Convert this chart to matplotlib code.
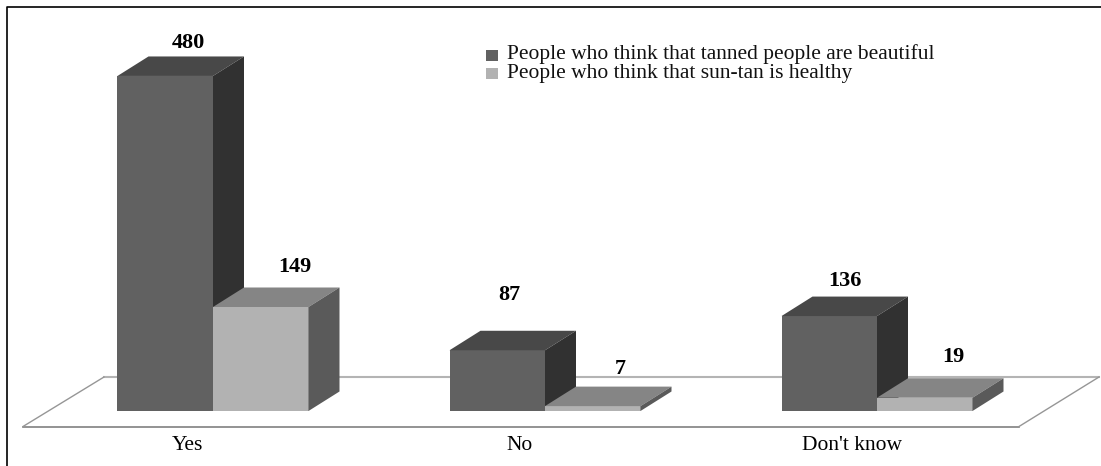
import matplotlib
matplotlib.use('Agg')
import matplotlib.pyplot as plt
from matplotlib.lines import Line2D
from matplotlib.patches import Polygon, Rectangle

categories = ['Yes', 'No', "Don't know"]
beautiful = [480, 87, 136]
healthy = [149, 7, 19]
legend_labels = ['People who think that tanned people are beautiful',
                 'People who think that sun-tan is healthy']

plt.rcParams['font.family'] = ['Liberation Serif', 'DejaVu Serif']

W, H = 1101, 466
fig = plt.figure(figsize=(W / 100, H / 100), dpi=100)
ax = fig.add_axes([0, 0, 1, 1])

# scale: category 0 sits at x=213px, baseline at y=411px
xpx, xorg = 332.0, 213.0
ypx, yorg = 0.698, 411.0
ax.set_xlim(-xorg / xpx, (W - xorg) / xpx)
ax.set_ylim((yorg - H) / ypx, yorg / ypx)
ax.axis('off')

bar_w = 95.5 / xpx
dep_x = 31 / xpx
dep_y = 19.5 / ypx


def box(x, h, front, top, side):
    ax.add_patch(Rectangle((x, 0), bar_w, h, fc=front, ec='none', zorder=3))
    ax.add_patch(Polygon([(x, h), (x + dep_x, h + dep_y), (x + bar_w + dep_x, h + dep_y), (x + bar_w, h)],
                         fc=top, ec='none', zorder=3))
    ax.add_patch(Polygon([(x + bar_w, 0), (x + bar_w + dep_x, dep_y), (x + bar_w + dep_x, h + dep_y), (x + bar_w, h)],
                         fc=side, ec='none', zorder=3))


# floor of the 3d plot
fx0, fx1 = (23 - xorg) / xpx, (1019 - xorg) / xpx
fbx0, fbx1 = (104 - xorg) / xpx, (1099 - xorg) / xpx
fy0, fy1 = (411 - 426.5) / ypx, (411 - 377) / ypx
ax.plot([fx0, fx1], [fy0, fy0], color='#808080', lw=1.2, zorder=1)
ax.plot([fbx0, fbx1], [fy1, fy1], color='#b4b4b4', lw=1.5, zorder=1)
ax.plot([fx0, fbx0], [fy0, fy1], color='#969696', lw=1, zorder=1)
ax.plot([fx1, fbx1], [fy0, fy1], color='#969696', lw=1, zorder=1)

# light bars go on top so their top face cuts the dark side face
for i in range(3):
    box(i - bar_w, beautiful[i], '#616161', '#484848', '#313131')
for i in range(3):
    box(i, healthy[i], '#b2b2b2', '#858585', '#5a5a5a')

# value labels, pixel offsets from the bar top
off_b = [(-25, 33), (-36, 55), (-32, 35)]
off_h = [(34, 40), (28, 37), (29, 41)]
for i in range(3):
    ax.annotate(str(beautiful[i]), (i, beautiful[i]), xytext=(off_b[i][0] * 0.72, off_b[i][1] * 0.72),
                textcoords='offset points', ha='center', va='center', fontsize=16, fontweight='bold', color='black')
    ax.annotate(str(healthy[i]), (i + bar_w / 2, healthy[i]), xytext=(off_h[i][0] * 0.72, off_h[i][1] * 0.72),
                textcoords='offset points', ha='center', va='center', fontsize=16, fontweight='bold', color='black')

for i, c in enumerate(categories):
    ax.text(i + (-26 + i * 0.5) / xpx, (411 - 445) / ypx, c, ha='center', va='center', fontsize=15.5, color='black')

# legend
for lab, col, sq, py in zip(legend_labels, ['#616161', '#b2b2b2'], [55.5, 73], [54.5, 73.5]):
    ax.add_patch(Rectangle(((486 - xorg) / xpx, (yorg - sq - 5.5) / ypx), 12 / xpx, 11 / ypx, fc=col, ec='none'))
    ax.text((507 - xorg) / xpx, (yorg - py) / ypx, lab, ha='left', va='center', fontsize=15.5, color='#111111')

# frame: left and top edges only
fig.add_artist(Line2D([7 / W, 7 / W, 1], [0, 1 - 7 / H, 1 - 7 / H], transform=fig.transFigure,
                      color='black', lw=1.2))

fig.savefig('out.png', dpi=100)
